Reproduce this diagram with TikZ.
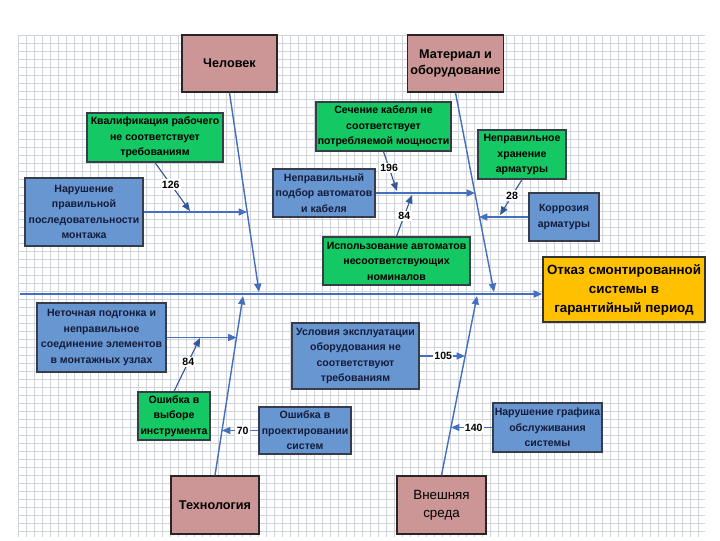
\documentclass[tikz,border=0pt]{standalone}
\usepackage{fontspec}
\setmainfont{Liberation Sans}
\usetikzlibrary{arrows.meta,calc}

\definecolor{pinkcat}{RGB}{204,150,150}
\definecolor{bluecause}{RGB}{104,150,208}
\definecolor{greencause}{RGB}{20,200,100}
\definecolor{goldeff}{RGB}{255,192,0}
\definecolor{lineblue}{RGB}{68,110,190}
\definecolor{boxedge}{RGB}{55,60,75}
\definecolor{gridgray}{RGB}{208,212,218}
\definecolor{navytext}{RGB}{20,28,60}

\begin{document}
\begin{tikzpicture}[
    x=0.025cm, y=-0.025cm,
    category/.style={draw=black!85, line width=1pt, fill=pinkcat, font=\fontsize{9}{12}\selectfont\bfseries, align=center, inner sep=2pt},
    cause/.style={draw=boxedge, line width=0.9pt, fill=#1, font=\fontsize{7.5}{11}\selectfont\bfseries, text=navytext, align=center, inner sep=1pt},
    cause/.default={bluecause},
    effect/.style={draw=black!80, line width=1.2pt, fill=goldeff, font=\fontsize{9.5}{13.5}\selectfont\bfseries, align=center, inner sep=2pt},
    arr/.style={-{Triangle[length=6pt,width=5pt]}, line width=1pt, #1},
    arr/.default={lineblue},
    num/.style={font=\fontsize{7.5}{9}\selectfont\bfseries, text=black, fill=white, inner sep=1pt},
]
\useasboundingbox (0,0) rectangle (720,540);

% ===== GRID =====
\fill[white] (0,0) rectangle (720,540);
\foreach \gx in {18,26,...,705} \draw[gridgray, line width=0.3pt] (\gx,35) -- (\gx,537);
\foreach \gy in {35,43,...,537} \draw[gridgray, line width=0.3pt] (18,\gy) -- (705,\gy);

% ===== CATEGORIES =====
\node[category, minimum width=2.375cm, minimum height=1.425cm] (chel) at (229.5,63.5) {Человек};
\node[category, minimum width=2.375cm, minimum height=1.425cm] (mat) at (455.5,63.5) {Материал и\\оборудование};
\node[category, minimum width=2.2cm, minimum height=1.45cm] (tech) at (215,505) {Технология};
\node[category, minimum width=2.225cm, minimum height=1.45cm, font=\fontsize{9.5}{12.5}\selectfont] (sreda) at (441.5,505) {Внешняя\\среда};

\node[effect, minimum width=4.05cm, minimum height=1.625cm] (otkaz) at (624,289.5) {Отказ смонтированной\\системы в\\гарантийный период};

% ===== CAUSES =====
\node[cause, minimum width=2.95cm, minimum height=1.7cm] (nar) at (84,212) {Нарушение\\правильной\\последовательности\\монтажа};
\node[cause=greencause, text=black, minimum width=3.4cm, minimum height=1.225cm] (kval) at (155,137.5) {Квалификация рабочего\\не соответствует\\требованиям};
\node[cause, minimum width=2.55cm, minimum height=1.2cm] (podbor) at (324,193) {Неправильный\\подбор автоматов\\и кабеля};
\node[cause=greencause, text=black, minimum width=3.375cm, minimum height=1.225cm] (sech) at (383.5,126.5) {Сечение кабеля не\\соответствует\\потребляемой мощности};
\node[cause=greencause, text=black, minimum width=3.675cm, minimum height=1.2cm] (ispol) at (396.5,261) {Использование автоматов\\несоответствующих\\номиналов};
\node[cause=greencause, text=black, minimum width=2.2cm, minimum height=1.225cm] (hran) at (522,154.5) {Неправильное\\хранение\\арматуры};
\node[cause, minimum width=1.75cm, minimum height=1.2cm] (korr) at (564,217) {Коррозия\\арматуры};

\node[cause, minimum width=3.225cm, minimum height=1.725cm] (netoch) at (101.5,337.5) {Неточная подгонка и\\неправильное\\соединение элементов\\в монтажных узлах};
\node[cause=greencause, text=black, minimum width=1.8cm, minimum height=1.2cm] (vybor) at (174,416) {Ошибка в\\выборе\\инструмента};
\node[cause, minimum width=2.3cm, minimum height=1.175cm] (proekt) at (305,430.5) {Ошибка в\\проектировании\\систем};
\node[cause, minimum width=3.175cm, minimum height=1.65cm] (uslov) at (355.5,356) {Условия эксплуатации\\оборудования не\\соответствуют\\требованиям};
\node[cause, minimum width=2.725cm, minimum height=1.225cm] (grafik) at (547.5,427.5) {Нарушение графика\\обслуживания\\системы};

% ===== SPINE AND BONES =====
\coordinate (spine0) at (20,294);
\draw[arr, line width=1.4pt] (spine0) -- (spine0 -| otkaz.west);

\coordinate (hTip) at (259,292);
\coordinate (mTip) at (494,292);
\coordinate (tTip) at (243,296);
\coordinate (sTip) at (477,296);
\draw[arr] (chel.south) -- (hTip);
\draw[arr] (mat.south) -- (mTip);
\draw[arr] (tech.north) -- (tTip);
\draw[arr] (sreda.north) -- (sTip);

% points on bones
\coordinate (h1) at (247,212);
\coordinate (m1) at (475,193);
\coordinate (m2) at (479,217);
\coordinate (t1) at (236.5,337.5);
\coordinate (t2) at (222,430.5);
\coordinate (s1) at (465,356);
\coordinate (s2) at (451,427.5);

\draw[arr] (nar.east) -- (h1);
\draw[arr] (podbor.east) -- (m1);
\draw[arr] (korr.west) -- (m2);
\draw[arr] (netoch.east) -- (t1);
\draw[arr] (proekt.west) -- (t2) node[num, pos=0.43] {70};
\draw[arr] (uslov.east) -- (s1) node[num, pos=0.52] {105};
\draw[arr] (grafik.west) -- (s2) node[num, pos=0.45] {140};

% ===== SUB-CAUSES =====
\coordinate (k1) at (190,211);
\coordinate (c1) at (397,191);
\coordinate (c2) at (412,195);
\coordinate (c3) at (500,215);
\coordinate (c4) at (200,338);
\draw[arr=lineblue!80!black, line width=0.8pt] (kval.south) -- (k1) node[num, pos=0.45] {126};
\draw[arr=lineblue!80!black, line width=0.8pt] (sech.south) -- (c1) node[num, pos=0.42] {196};
\draw[arr=lineblue!80!black, line width=0.8pt] (ispol.north) -- (c2) node[num, pos=0.5] {84};
\draw[arr=lineblue!80!black, line width=0.8pt] (hran.south) -- (c3) node[num, pos=0.45] {28};
\draw[arr=lineblue!80!black, line width=0.8pt] (vybor.north) -- (c4) node[num, pos=0.55] {84};

\end{tikzpicture}
\end{document}
